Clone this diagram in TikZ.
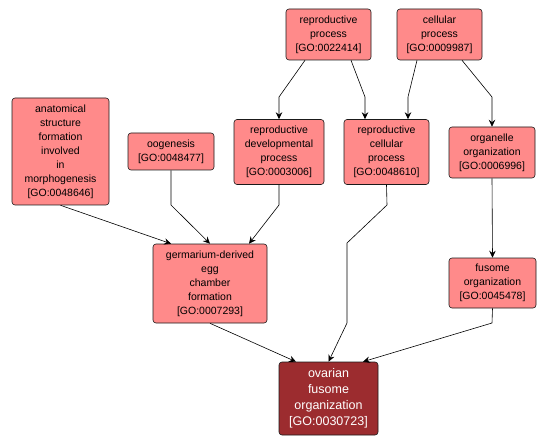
\documentclass[tikz,border=0pt]{standalone}
\usepackage{fontspec}
\setmainfont{Liberation Sans}
\usetikzlibrary{arrows.meta}
\definecolor{gofill}{HTML}{FF8A8A}
\definecolor{gofocus}{HTML}{9C2C2F}
\definecolor{goline}{HTML}{1A1A1A}

\begin{document}
\begin{tikzpicture}[
  x=1pt, y=-1pt,
  goterm/.style={draw=goline, fill=gofill, rounded corners=3pt, line width=0.6pt,
    align=center, inner sep=1pt, font=\fontsize{10.5}{14}\selectfont},
  gomain/.style={goterm, fill=gofocus, text=white, font=\fontsize{12.5}{16}\selectfont},
  ar/.style={-{Stealth[length=7pt, width=6.5pt, inset=2.5pt]}, draw=black, line width=0.6pt},
]
\useasboundingbox (0,0) rectangle (548,446);
% top row
\node[goterm, minimum width=85pt, minimum height=51pt] (rp) at (328.5,34.5) {reproductive\\process\\{[GO:0022414]}};
\node[goterm, minimum width=85pt, minimum height=51pt] (cp) at (439.5,34.5) {cellular\\process\\{[GO:0009987]}};
% middle row
\node[goterm, minimum width=97pt, minimum height=107pt] (anat) at (60.5,151.5) {anatomical\\structure\\formation\\involved\\in\\morphogenesis\\{[GO:0048646]}};
\node[goterm, minimum width=86pt, minimum height=37pt] (oog) at (171,151.5) {oogenesis\\{[GO:0048477]}};
\node[goterm, minimum width=90pt, minimum height=65pt] (rd) at (279,152) {reproductive\\developmental\\process\\{[GO:0003006]}};
\node[goterm, minimum width=85pt, minimum height=65pt] (rc) at (386.5,152) {reproductive\\cellular\\process\\{[GO:0048610]}};
\node[goterm, minimum width=86pt, minimum height=51pt] (org) at (492,152.5) {organelle\\organization\\{[GO:0006996]}};
% lower rows
\node[goterm, minimum width=114pt, minimum height=79pt] (germ) at (210,283.5) {germarium-derived\\egg\\chamber\\formation\\{[GO:0007293]}};
\node[goterm, minimum width=87pt, minimum height=50pt] (fus) at (492.5,283) {fusome\\organization\\{[GO:0045478]}};
\node[gomain, minimum width=99pt, minimum height=73pt] (ov) at (328.5,398.5) {ovarian\\fusome\\organization\\{[GO:0030723]}};
% edges
\draw[ar] ([xshift=-23.5pt]rp.south) -- (279,97) -- (rd.north);
\draw[ar] ([xshift=22.5pt]rp.south) -- (365,97) -- ([xshift=-21.5pt]rc.north);
\draw[ar] ([xshift=-22.5pt]cp.south) -- (408,97) -- ([xshift=21.5pt]rc.north);
\draw[ar] ([xshift=22.5pt]cp.south) -- (492,97) -- (org.north);
\draw[ar] (org.south) -- (fus.north);
\draw[ar] (fus.south) -- (492,323) -- ([xshift=34.5pt]ov.north);
\draw[ar] (rc.south) -- (387,205) -- (347,243) -- (347,323) -- (ov.north);
\draw[ar] (germ.south) -- ([xshift=-32.5pt]ov.north);
\draw[ar] (oog.south) -- (171,205) -- (germ.north);
\draw[ar] (rd.south) -- (279,205) -- ([xshift=39pt]germ.north);
\draw[ar] (anat.south) -- ([xshift=-39pt]germ.north);
\end{tikzpicture}
\end{document}
